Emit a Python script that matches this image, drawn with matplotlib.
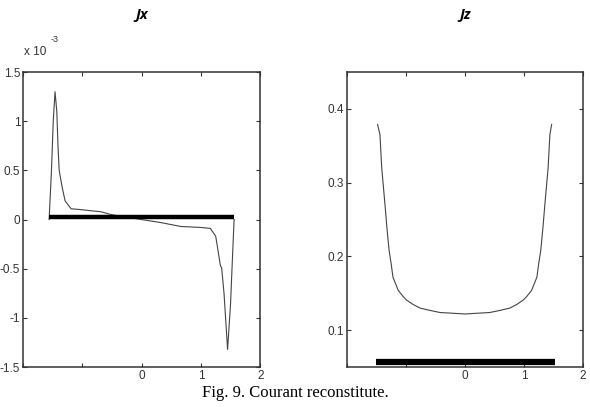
import matplotlib
matplotlib.use("Agg")
import matplotlib.pyplot as plt

# Jx (units of 1e-3)
jx_x = [-1.56, -1.52, -1.49, -1.46, -1.43, -1.41, -1.39, -1.34, -1.29, -1.19,
        -1.0, -0.86, -0.69, -0.51, -0.3, 0.0, 0.32, 0.66, 1.0, 1.16, 1.25,
        1.33, 1.35, 1.39, 1.45, 1.50, 1.53, 1.56]
jx_y = [0.0, 0.5, 1.0, 1.3, 1.1, 0.75, 0.5, 0.33, 0.19, 0.11,
        0.1, 0.09, 0.08, 0.05, 0.03, 0.0, -0.03, -0.07, -0.08, -0.09, -0.17,
        -0.47, -0.49, -0.75, -1.32, -0.86, -0.42, 0.0]
jx_bar_x = [-1.56, 1.56]
jx_bar_y = [0.025, 0.025]

# Jz
jz_x = [-1.48, -1.44, -1.41, -1.36, -1.32, -1.285, -1.25, -1.22, -1.17, -1.13,
        -1.05, -0.99, -0.88, -0.76, -0.6, -0.42, -0.2, 0.0, 0.2, 0.42, 0.6,
        0.76, 0.88, 0.99, 1.05, 1.13, 1.17, 1.22, 1.25, 1.285, 1.32, 1.36,
        1.41, 1.44, 1.47]
jz_y = [0.379, 0.365, 0.32, 0.275, 0.237, 0.208, 0.19, 0.172, 0.162, 0.154,
        0.146, 0.141, 0.135, 0.130, 0.127, 0.124, 0.123, 0.122, 0.123, 0.124, 0.127,
        0.130, 0.135, 0.141, 0.146, 0.154, 0.162, 0.172, 0.19, 0.208, 0.237, 0.275,
        0.32, 0.365, 0.379]
jz_bar_x = [-1.5, 1.52]
jz_bar_y = [0.057, 0.057]

xticks = [-2, -1, 0, 1, 2]
xticklabels = ["", "", "0", "1", "2"]
jx_yticks = [-1.5, -1, -0.5, 0, 0.5, 1, 1.5]
jx_ylabels = ["-1.5", "-1", "-0.5", "0", "0.5", "1", "1.5"]
jz_yticks = [0.1, 0.2, 0.3, 0.4]
jz_ylabels = ["0.1", "0.2", "0.3", "0.4"]

plt.rcParams['font.family'] = ['Liberation Sans', 'DejaVu Sans']

fig = plt.figure(figsize=(5.9, 4.07), dpi=100)
ax1 = fig.add_axes([0.039, 0.098, 0.402, 0.725])
ax2 = fig.add_axes([0.588, 0.098, 0.400, 0.725])

def style(ax):
    ax.set_xlim(-2, 2)
    ax.set_xticks(xticks)
    ax.set_xticklabels(xticklabels)
    ax.tick_params(direction="in", length=3, width=0.8, colors="#333333",
                   labelsize=8.5, top=True, right=True, pad=2)
    for s in ax.spines.values():
        s.set_color("#333333")
        s.set_linewidth(1.1)

style(ax1)
ax1.plot(jx_x, jx_y, color="#444444", lw=0.8)
ax1.plot(jx_bar_x, jx_bar_y, color="black", lw=3.2, solid_capstyle="butt")
ax1.set_ylim(-1.5, 1.5)
ax1.set_yticks(jx_yticks)
ax1.set_yticklabels(jx_ylabels)
ax1.set_title("Jx", fontsize=10.5, fontweight="bold", style="italic",
              family="Open Sans", pad=38)
fig.text(0.040, 0.866, "x 10", fontsize=8.5, color="#333333")
fig.text(0.085, 0.896, "-3", fontsize=6.5, color="#333333")

style(ax2)
ax2.plot(jz_x, jz_y, color="#444444", lw=0.8)
ax2.plot(jz_bar_x, jz_bar_y, color="black", lw=4.5, solid_capstyle="butt")
ax2.set_ylim(0.05, 0.45)
ax2.set_yticks(jz_yticks)
ax2.set_yticklabels(jz_ylabels)
ax2.set_title("Jz", fontsize=10.5, fontweight="bold", style="italic",
              family="Open Sans", pad=38)

fig.text(0.5, 0.024, "Fig. 9. Courant reconstitute.", ha="center",
         fontsize=12, family="Liberation Serif")

fig.savefig("out.png", dpi=100)
